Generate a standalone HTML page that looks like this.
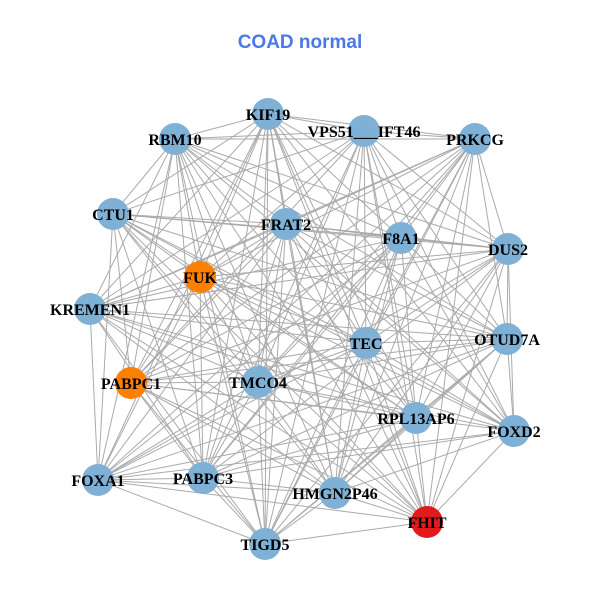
<!DOCTYPE html>
<html><head><meta charset="utf-8"><style>
html,body{margin:0;padding:0;background:#fff;}
svg{display:block;}
</style></head><body>
<svg id="g" width="600" height="600" xmlns="http://www.w3.org/2000/svg">
<rect width="600" height="600" fill="#fff"/>
<text x="300" y="48" text-anchor="middle" font-family="Liberation Sans, sans-serif" font-weight="bold" font-size="19" fill="#4a78e6">COAD normal</text>
<g id="edges" stroke="#aaaaaa" stroke-width="1"></g>
<g id="nodes"></g>
</svg>
<script>
var N=[["KIF19",268,114,"b"],["VPS51___IFT46",364,131,"b"],["RBM10",175,139,"b"],["PRKCG",475,139,"b"],["CTU1",113,214,"b"],["FRAT2",286,224,"b"],["F8A1",401,238,"b"],["DUS2",508,249,"b"],["FUK",200,277,"o"],["KREMEN1",90,309,"b"],["TEC",366,343,"b"],["OTUD7A",507,339,"b"],["PABPC1",131,383,"o"],["TMCO4",258,382,"b"],["RPL13AP6",416,418,"b"],["FOXD2",514,431,"b"],["FOXA1",98,480,"b"],["PABPC3",203,478,"b"],["HMGN2P46",335,493,"b"],["FHIT",427,522,"r"],["TIGD5",265,544,"b"]];
var ns="http://www.w3.org/2000/svg",E=document.getElementById("edges"),G=document.getElementById("nodes");
for(var i=0;i<N.length;i++)for(var j=i+1;j<N.length;j++){
 if((i*7+j*3)%11==0)continue;
 var l=document.createElementNS(ns,"line");
 l.setAttribute("x1",N[i][1]);l.setAttribute("y1",N[i][2]);l.setAttribute("x2",N[j][1]);l.setAttribute("y2",N[j][2]);E.appendChild(l);}
var col={b:"#7fb0d6",o:"#ff7f00",r:"#e31a1c"};
N.forEach(function(n){var c=document.createElementNS(ns,"circle");c.setAttribute("cx",n[1]);c.setAttribute("cy",n[2]);c.setAttribute("r",16);c.setAttribute("fill",col[n[3]]);G.appendChild(c);});
N.forEach(function(n){var t=document.createElementNS(ns,"text");t.setAttribute("x",n[1]);t.setAttribute("y",n[2]+6);t.setAttribute("text-anchor","middle");t.setAttribute("font-family","Liberation Serif, serif");t.setAttribute("font-weight","bold");t.setAttribute("font-size","16");t.textContent=n[0];G.appendChild(t);});
</script>
</body></html>
